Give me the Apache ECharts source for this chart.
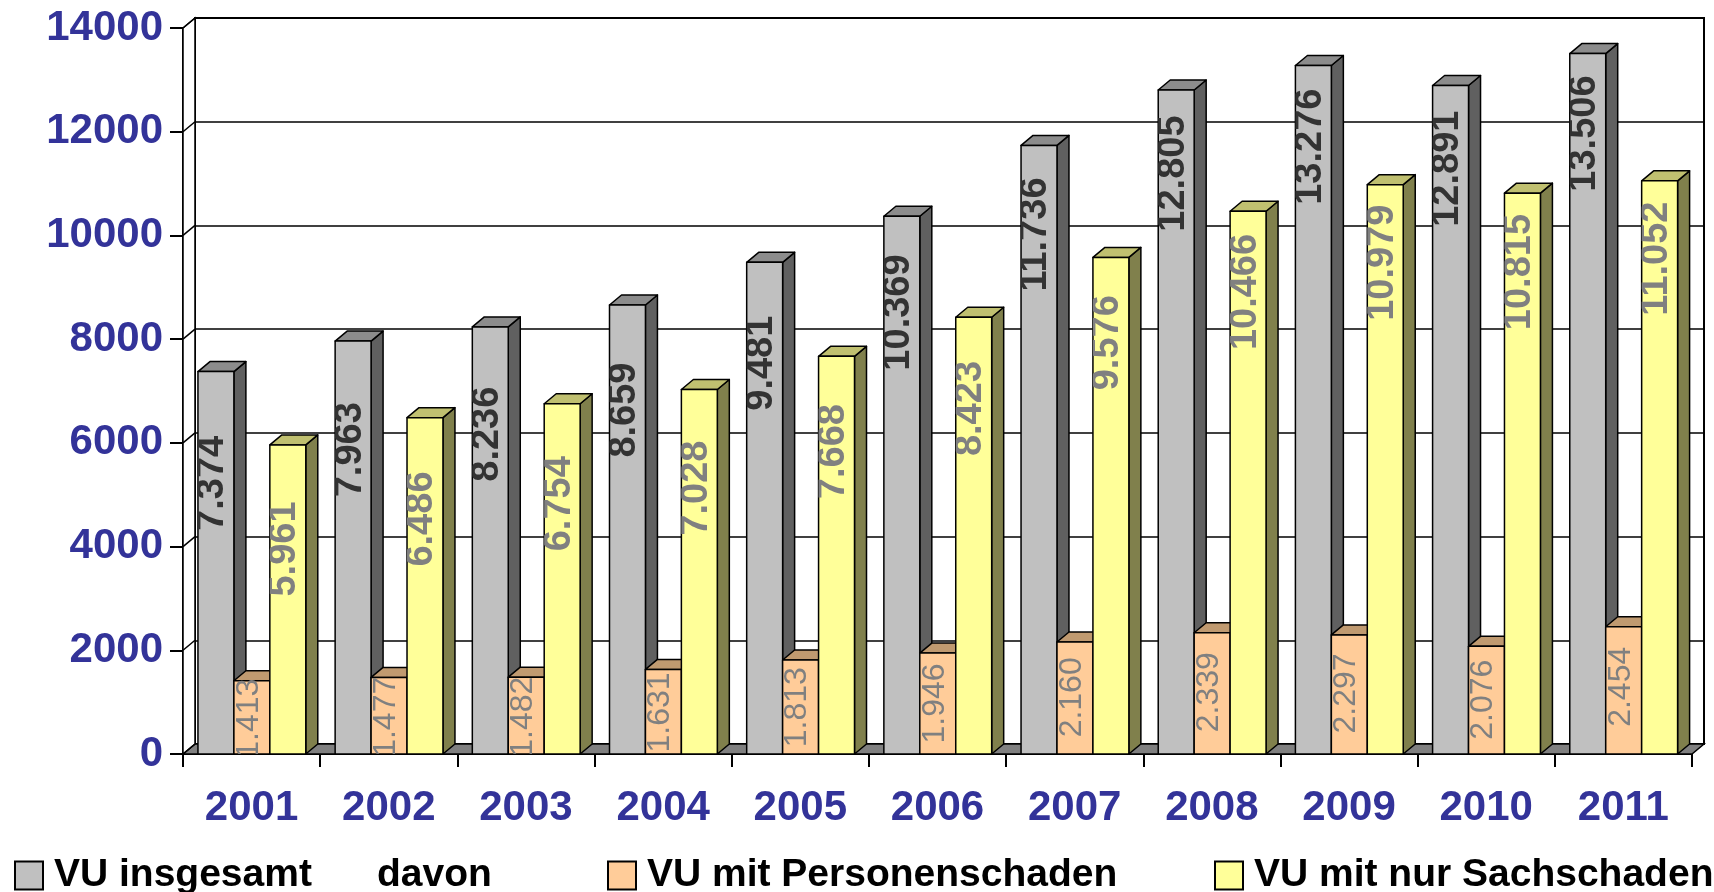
<!DOCTYPE html>
<html><head><meta charset="utf-8">
<script src="https://cdn.jsdelivr.net/npm/echarts@6/dist/echarts.min.js"></script>
<style>html,body{margin:0;padding:0;background:#fff}#c{width:1714px;height:892px}</style>
</head><body><div id="c"></div>
<script>
// ---- data ----
const years = ['2001','2002','2003','2004','2005','2006','2007','2008','2009','2010','2011'];
const insgesamt = [7374, 7963, 8236, 8659, 9481, 10369, 11736, 12805, 13276, 12891, 13506];
const personen = [1413, 1477, 1482, 1631, 1813, 1946, 2160, 2339, 2297, 2076, 2454];
const sachschaden = [5961, 6486, 6754, 7028, 7668, 8423, 9576, 10466, 10979, 10815, 11052];
const yTicks = [0, 2000, 4000, 6000, 8000, 10000, 12000, 14000];
const seriesNames = ['VU insgesamt', 'VU mit Personenschaden', 'VU mit nur Sachschaden'];

// ---- style ----
const FONT = '"Liberation Sans", Arial, Helvetica, sans-serif';
const AXIS_COLOR = '#333399';
const DX = 12, DY = 10;
const BAR_W = 0.262, BAR_OFF = 0.109;

function fmt(v) { return (v / 1000).toFixed(3); }

const styles = [
  { front: '#C0C0C0', side: '#606060', top: '#8C8C8C', text: '#333333', weight: 'bold', size: 38, mode: 'center', c: 150 },
  { front: '#FFCC99', side: '#80664C', top: '#C09A70', text: '#808080', weight: 'normal', size: 32, mode: 'top' },
  { front: '#FFFF99', side: '#80804C', top: '#C0C070', text: '#808080', weight: 'bold', size: 38, mode: 'center', c: 135 }
];

function barRenderer(slot) {
  const st = styles[slot];
  return function (params, api) {
    const cat = api.value(0), val = api.value(1);
    const p0 = api.coord([cat, 0]);
    const p1 = api.coord([cat, val]);
    const band = api.size([1, 0])[0];
    const w = band * BAR_W;
    const x = p0[0] - band / 2 + band * BAR_OFF + slot * w;
    const yb = p0[1], yt = p1[1];
    const h = yb - yt;
    const ln = { stroke: '#000', lineWidth: 1.5, lineJoin: 'round' };
    const children = [
      { type: 'polygon', shape: { points: [[x + w, yt], [x + w + DX, yt - DY], [x + w + DX, yb - DY], [x + w, yb]] }, style: Object.assign({ fill: st.side }, ln) },
      { type: 'polygon', shape: { points: [[x, yt], [x + DX, yt - DY], [x + w + DX, yt - DY], [x + w, yt]] }, style: Object.assign({ fill: st.top }, ln) },
      { type: 'rect', shape: { x: x, y: yt, width: w, height: h }, style: Object.assign({ fill: st.front }, ln) }
    ];
    const cx = x + w / 2 - 3;
    let ty, align;
    if (st.mode === 'center') {
      ty = yt + (st.c - 0.1 * h);
      align = 'center';
    } else {
      ty = yt + Math.max(-4, Math.min(20, (h - 78) * 0.45));
      align = 'right';
    }
    children.push({
      type: 'group',
      clipPath: { type: 'rect', shape: { x: x, y: yt - 6, width: w, height: h + 6 } },
      children: [{
        type: 'text', x: cx, y: ty, rotation: Math.PI / 2,
        style: { text: fmt(val), fill: st.text, fontSize: st.size, fontWeight: st.weight, fontFamily: FONT, align: align, verticalAlign: 'middle' }
      }]
    });
    return { type: 'group', children: children };
  };
}

function frameRenderer(params, api) {
  const cs = params.coordSys;
  const x0 = cs.x, x1 = cs.x + cs.width;
  const yb = api.coord([0, 0])[1];
  const yTop = api.coord([0, yTicks[yTicks.length - 1]])[1];
  const y = api.coord([0, api.value(1)])[1];
  const ln = { stroke: '#000', lineWidth: 1.5 };
  const children = [];
  if (params.dataIndex === 0) {
    children.push({ type: 'polygon', shape: { points: [[x0, yb], [x1, yb], [x1 + DX, yb - DY], [x0 + DX, yb - DY]] }, style: Object.assign({ fill: '#808080' }, ln) });
    children.push({ type: 'polygon', shape: { points: [[x0, yb], [x0, yTop], [x0 + DX, yTop - DY], [x0 + DX, yb - DY]] }, style: Object.assign({ fill: '#ffffff' }, ln) });
  }
  children.push({ type: 'line', shape: { x1: x0, y1: y, x2: x0 + DX, y2: y - DY }, style: ln });
  return { type: 'group', children: children };
}

const chart = echarts.init(document.getElementById('c'), null, { renderer: 'canvas' });

const gridFront = { left: 183, top: 28, width: 1509, height: 726 };
const gridBack = { left: 183 + DX, top: 28 - DY, width: 1509, height: 726, show: true, borderColor: '#000', borderWidth: 2, backgroundColor: '#fff' };

function legendOf(i, left, fmtFn) {
  return {
    data: [{ name: seriesNames[i], icon: 'rect', itemStyle: { color: styles[i].front, borderColor: '#000', borderWidth: 2 } }],
    left: left, top: 851, itemWidth: 28, itemHeight: 28,
    selectedMode: false,
    formatter: fmtFn,
    textStyle: { fontSize: 39, fontWeight: 'bold', color: '#000', fontFamily: FONT, padding: [0, 0, 0, 6] }
  };
}

const option = {
  animation: false,
  backgroundColor: '#fff',
  grid: [gridFront, gridBack],
  xAxis: [
    {
      type: 'category', data: years, gridIndex: 0,
      axisLine: { lineStyle: { color: '#000', width: 2 } },
      axisTick: { show: true, length: 13, lineStyle: { color: '#000', width: 2 } },
      axisLabel: { margin: 33, fontSize: 42, fontWeight: 'bold', color: AXIS_COLOR, fontFamily: FONT },
      splitLine: { show: false }
    },
    { type: 'category', data: years, gridIndex: 1, show: false }
  ],
  yAxis: [
    {
      type: 'value', gridIndex: 0, min: 0, max: 14000, interval: 2000,
      axisLine: { show: true, lineStyle: { color: '#000', width: 2 } },
      axisTick: { show: true, length: 13, lineStyle: { color: '#000', width: 2 } },
      axisLabel: { margin: 20, fontSize: 42, fontWeight: 'bold', color: AXIS_COLOR, fontFamily: FONT, formatter: function (v) { return String(v); } },
      splitLine: { show: false }
    },
    {
      type: 'value', gridIndex: 1, min: 0, max: 14000, interval: 2000,
      axisLine: { show: false }, axisTick: { show: false }, axisLabel: { show: false },
      splitLine: { show: true, lineStyle: { color: '#000', width: 1.5 } }
    }
  ],
  legend: [
    legendOf(0, 9, function (n) { return n + '      davon'; }),
    legendOf(1, 602),
    legendOf(2, 1209)
  ],
  series: [
    {
      type: 'custom', name: 'frame', xAxisIndex: 0, yAxisIndex: 0, z: 1,
      data: yTicks.map(function (v) { return [0, v]; }),
      encode: { x: 0, y: 1 }, renderItem: frameRenderer, silent: true
    },
    {
      type: 'custom', name: seriesNames[0], xAxisIndex: 0, yAxisIndex: 0, z: 3,
      itemStyle: { color: styles[0].front },
      data: insgesamt.map(function (v, i) { return [i, v]; }),
      encode: { x: 0, y: 1 }, renderItem: barRenderer(0)
    },
    {
      type: 'custom', name: seriesNames[1], xAxisIndex: 0, yAxisIndex: 0, z: 4,
      itemStyle: { color: styles[1].front },
      data: personen.map(function (v, i) { return [i, v]; }),
      encode: { x: 0, y: 1 }, renderItem: barRenderer(1)
    },
    {
      type: 'custom', name: seriesNames[2], xAxisIndex: 0, yAxisIndex: 0, z: 5,
      itemStyle: { color: styles[2].front },
      data: sachschaden.map(function (v, i) { return [i, v]; }),
      encode: { x: 0, y: 1 }, renderItem: barRenderer(2)
    }
  ]
};
chart.setOption(option);
</script>
</body></html>
